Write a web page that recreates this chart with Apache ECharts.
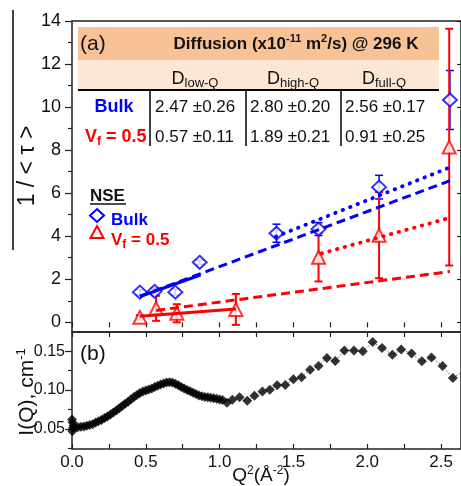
<!DOCTYPE html>
<html>
<head>
<meta charset="utf-8">
<script src="https://cdn.jsdelivr.net/npm/echarts@6/dist/echarts.min.js"></script>
<style>
  html, body { margin: 0; padding: 0; background: #fff; }
  #chart { width: 461px; height: 486px; }
</style>
</head>
<body>
<div id="chart"></div>
<script>
// NSE relaxation rates, 1/<tau>
const bulkQ = [0.46, 0.56, 0.70, 0.865, 1.385, 1.67, 2.08, 2.56]
const bulkTau = [1.40, 1.44, 1.40, 2.79, 4.14, 4.33, 6.28, 10.33]
const bulkErr = [0.12, 0.15, 0.15, 0.10, 0.42, 0.30, 0.55, 1.37]

const vfQ = [0.46, 0.57, 0.71, 1.11, 1.67, 2.08, 2.555]
const vfTau = [0.23, 0.65, 0.42, 0.60, 3.02, 4.05, 8.14]
const vfErr = [0.10, 0.58, 0.42, 0.72, 1.12, 2.00, 5.50]

// fit lines (end points)
const bulkLowFit = [[0.46, 1.20], [0.87, 2.20]]
const bulkFullFit = [[0.46, 1.21], [2.56, 6.58]]
const bulkHighFit = [[1.38, 3.98], [2.56, 7.20]]
const vfLowFit = [[0.46, 0.28], [1.11, 0.62]]
const vfFullFit = [[0.57, 0.55], [2.56, 2.36]]
const vfHighFit = [[1.69, 3.20], [2.53, 4.80]]

// SAXS I(Q)
const saxsQ = [0.000, 0.002, 0.004, 0.006, 0.010, 0.020, 0.040, 0.060, 0.080, 0.100,
  0.120, 0.140, 0.160, 0.180, 0.200, 0.220, 0.240, 0.260, 0.280, 0.300,
  0.320, 0.340, 0.360, 0.380, 0.400, 0.420, 0.440, 0.460, 0.480, 0.500,
  0.520, 0.540, 0.560, 0.580, 0.600, 0.620, 0.640, 0.660, 0.680, 0.700,
  0.720, 0.740, 0.760, 0.780, 0.800, 0.820, 0.840, 0.860, 0.880, 0.900,
  0.920, 0.940, 0.960, 0.980, 1.000, 1.020, 1.050, 1.086, 1.135, 1.187,
  1.236, 1.290, 1.340, 1.390, 1.445, 1.500, 1.555, 1.613, 1.670, 1.727,
  1.783, 1.845, 1.910, 1.970, 2.037, 2.100, 2.170, 2.230, 2.300, 2.370,
  2.435, 2.510, 2.580, 2.650]
const saxsI = [0.062, 0.047, 0.058, 0.051, 0.054, 0.052, 0.052, 0.0525, 0.053, 0.054,
  0.0548, 0.056, 0.058, 0.0598, 0.0615, 0.0638, 0.066, 0.0685, 0.071, 0.0735,
  0.0765, 0.0793, 0.0822, 0.085, 0.088, 0.091, 0.0935, 0.096, 0.098, 0.0995,
  0.1005, 0.102, 0.104, 0.1055, 0.107, 0.1085, 0.1095, 0.110, 0.1095, 0.108,
  0.106, 0.104, 0.102, 0.100, 0.0985, 0.0965, 0.0948, 0.093, 0.092, 0.091,
  0.0905, 0.090, 0.0893, 0.0888, 0.0878, 0.087, 0.0835, 0.0874, 0.0905, 0.086,
  0.0926, 0.098, 0.1004, 0.106, 0.1065, 0.114, 0.1163, 0.126, 0.131, 0.1413,
  0.1375, 0.1508, 0.1508, 0.150, 0.1617, 0.154, 0.1455, 0.152, 0.147, 0.137,
  0.142, 0.131, 0.1153, 0.124]

// ticks
const xTicks = [0, 0.25, 0.5, 0.75, 1, 1.25, 1.5, 1.75, 2, 2.25, 2.5]
const xLabels = [0, 0.5, 1, 1.5, 2, 2.5]
const tauMajor = [0, 2, 4, 6, 8, 10, 12, 14]
const tauMinor = [1, 3, 5, 7, 9, 11, 13]
const iMajor = [0.05, 0.10, 0.15]
const iMinor = [0.025, 0.075, 0.125]

const FONT = "'Liberation Sans', Arial, sans-serif"
const BLUE = "#0000ff"
const RED = "#ff0000"
const AX = "#222"

const chart = echarts.init(document.getElementById("chart"), null, { renderer: "canvas" })

const pairs = (xs, ys) => xs.map((x, i) => [x, ys[i]])
const triples = (xs, ys, es) => xs.map((x, i) => [x, ys[i], es[i]])

// error bars drawn with the axis coords
function errRender(color, w) {
  return function (params, api) {
    const x = api.value(0)
    const y = api.value(1)
    const e = api.value(2)
    const p1 = api.coord([x, y + e])
    const p2 = api.coord([x, y - e])
    const c = 4
    const st = { stroke: color, lineWidth: w }
    return {
      type: "group",
      children: [
        { type: "line", shape: { x1: p1[0], y1: p1[1], x2: p2[0], y2: p2[1] }, style: st },
        { type: "line", shape: { x1: p1[0] - c, y1: p1[1], x2: p1[0] + c, y2: p1[1] }, style: st },
        { type: "line", shape: { x1: p2[0] - c, y1: p2[1], x2: p2[0] + c, y2: p2[1] }, style: st }
      ]
    }
  }
}

function fitLine(data, color, kind) {
  let type = "solid"
  let width = 3
  let cap = "butt"
  if (kind === "dashed") type = [9, 5]
  if (kind === "dotted") { type = [0.5, 7.5]; width = 3.8; cap = "round" }
  return {
    type: "line", xAxisIndex: 0, yAxisIndex: 0, data, showSymbol: false, silent: true, z: 4,
    lineStyle: { color, width, type, cap }
  }
}

const tickStyle = { color: AX, width: 1.2 }

const option = {
  animation: false,
  grid: [
    { left: 72, top: 21, width: 390, height: 311, show: true, borderColor: AX, borderWidth: 1.5 },
    { left: 72, top: 332, width: 390, height: 117, show: true, borderColor: AX, borderWidth: 1.5 }
  ],
  xAxis: [
    { gridIndex: 0, type: "value", min: 0, max: 2.635, position: "bottom",
      axisLine: { show: false }, axisTick: { show: false }, axisLabel: { show: false }, splitLine: { show: false } },
    { gridIndex: 0, type: "value", min: 0, max: 2.635, position: "top",
      axisLine: { show: false }, axisLabel: { show: false }, splitLine: { show: false },
      axisTick: { show: true, inside: true, length: 5, lineStyle: tickStyle, customValues: xTicks } },
    { gridIndex: 1, type: "value", min: 0, max: 2.635, position: "bottom",
      axisLine: { show: false }, splitLine: { show: false },
      axisTick: { show: true, inside: true, length: 5, lineStyle: tickStyle, customValues: xTicks },
      axisLabel: { customValues: xLabels, formatter: (v) => v.toFixed(1), fontSize: 17, fontFamily: FONT, color: "#111", margin: 5 } },
    { gridIndex: 1, type: "value", min: 0, max: 2.635, position: "top",
      axisLine: { show: false }, axisLabel: { show: false }, splitLine: { show: false },
      axisTick: { show: true, inside: true, length: 5, lineStyle: tickStyle, customValues: xTicks } }
  ],
  yAxis: [
    { gridIndex: 0, type: "value", min: -0.45, max: 14, position: "left",
      axisLine: { show: false }, splitLine: { show: false },
      axisTick: { show: true, inside: false, length: 7, lineStyle: tickStyle, customValues: tauMajor },
      axisLabel: { customValues: tauMajor, fontSize: 18, fontFamily: FONT, color: "#111", margin: 11 } },
    { gridIndex: 0, type: "value", min: -0.45, max: 14, position: "left",
      axisLine: { show: false }, splitLine: { show: false }, axisLabel: { show: false },
      axisTick: { show: true, inside: false, length: 4, lineStyle: tickStyle, customValues: tauMinor } },
    { gridIndex: 0, type: "value", min: -0.45, max: 14, position: "right",
      axisLine: { show: false }, splitLine: { show: false }, axisLabel: { show: false },
      axisTick: { show: true, inside: true, length: 4, lineStyle: tickStyle, customValues: tauMajor } },
    { gridIndex: 1, type: "value", min: 0.024, max: 0.1747, position: "left",
      axisLine: { show: false }, splitLine: { show: false },
      axisTick: { show: true, inside: false, length: 7, lineStyle: tickStyle, customValues: iMajor },
      axisLabel: { customValues: iMajor, formatter: (v) => v.toFixed(2), fontSize: 16, fontFamily: FONT, color: "#111", margin: 7 } },
    { gridIndex: 1, type: "value", min: 0.024, max: 0.1747, position: "left",
      axisLine: { show: false }, splitLine: { show: false }, axisLabel: { show: false },
      axisTick: { show: true, inside: false, length: 4, lineStyle: tickStyle, customValues: iMinor } }
  ],
  series: [
    { type: "custom", xAxisIndex: 0, yAxisIndex: 0, z: 1, clip: true,
      data: triples(bulkQ, bulkTau, bulkErr), renderItem: errRender(BLUE, 1.5) },
    { type: "custom", xAxisIndex: 0, yAxisIndex: 0, z: 1, clip: true,
      data: triples(vfQ, vfTau, vfErr), renderItem: errRender(RED, 2) },
    { type: "scatter", xAxisIndex: 0, yAxisIndex: 0, z: 3, data: pairs(bulkQ, bulkTau),
      symbol: "diamond", symbolSize: [14, 13],
      itemStyle: { color: "#fff", borderColor: BLUE, borderWidth: 2 } },
    { type: "scatter", xAxisIndex: 0, yAxisIndex: 0, z: 3, data: pairs(vfQ, vfTau),
      symbol: "triangle", symbolSize: [13, 13],
      itemStyle: { color: "#fff", borderColor: RED, borderWidth: 2 } },
    fitLine(bulkFullFit, BLUE, "dashed"),
    fitLine(bulkLowFit, BLUE, "solid"),
    fitLine(bulkHighFit, BLUE, "dotted"),
    fitLine(vfFullFit, RED, "dashed"),
    fitLine(vfLowFit, RED, "solid"),
    fitLine(vfHighFit, RED, "dotted"),
    { type: "line", xAxisIndex: 2, yAxisIndex: 3, data: pairs(saxsQ, saxsI), showSymbol: false,
      silent: true, z: 2, lineStyle: { color: "#555", width: 1, type: [1.5, 2] } },
    { type: "scatter", xAxisIndex: 2, yAxisIndex: 3, data: pairs(saxsQ, saxsI), z: 3,
      symbol: "diamond", symbolSize: 10, itemStyle: { color: "#000" } }
  ],
  graphic: [
    // stray frame line at far left
    { type: "line", shape: { x1: 13, y1: 10, x2: 13, y2: 250 }, style: { stroke: "#000", lineWidth: 1.5 } },
    // table
    { type: "rect", shape: { x: 78, y: 27, width: 361, height: 33 }, style: { fill: "#f7c396" }, z: 10 },
    { type: "rect", shape: { x: 78, y: 60, width: 361, height: 30 }, style: { fill: "#fce6d6" }, z: 10 },
    { type: "line", shape: { x1: 78, y1: 90, x2: 439, y2: 90 }, style: { stroke: "#000", lineWidth: 2 }, z: 11 },
    { type: "line", shape: { x1: 150, y1: 90, x2: 150, y2: 146 }, style: { stroke: "#000", lineWidth: 1.5 }, z: 11 },
    { type: "line", shape: { x1: 246, y1: 90, x2: 246, y2: 146 }, style: { stroke: "#000", lineWidth: 1.5 }, z: 11 },
    { type: "line", shape: { x1: 341, y1: 90, x2: 341, y2: 146 }, style: { stroke: "#000", lineWidth: 1.5 }, z: 11 },
    { type: "text", z: 12, style: { x: 80, y: 44, text: "(a)", font: `21px ${FONT}`, fill: "#111", textVerticalAlign: "middle" } },
    { type: "text", z: 12, style: { x: 296, y: 44, textAlign: "center", textVerticalAlign: "middle", fill: "#111",
      text: "{b|Diffusion (x10}{s|-11}{b| m}{s|2}{b|/s) @ 296 K}",
      rich: { b: { fontSize: 17, fontWeight: "bold", fontFamily: FONT, lineHeight: 22 },
        s: { fontSize: 11, fontWeight: "bold", fontFamily: FONT, lineHeight: 11, verticalAlign: "top" } } } },
    ...[["low-Q", 195], ["high-Q", 293], ["full-Q", 384]].map(([sub, cx]) => ({
      type: "text", z: 12, style: { x: cx, y: 79, textAlign: "center", textVerticalAlign: "middle", fill: "#111",
        text: `{m|D}{s|${sub}}`,
        rich: { m: { fontSize: 18, fontFamily: FONT, lineHeight: 22 },
          s: { fontSize: 13, fontFamily: FONT, lineHeight: 13, verticalAlign: "bottom" } } }
    })),
    { type: "text", z: 12, style: { x: 114, y: 107, text: "Bulk", textAlign: "center", textVerticalAlign: "middle",
      font: `bold 18px ${FONT}`, fill: BLUE } },
    { type: "text", z: 12, style: { x: 85, y: 137, textVerticalAlign: "middle", fill: RED,
      text: "{m|V}{s|f}{m| = 0.5}",
      rich: { m: { fontSize: 18, fontWeight: "bold", fontFamily: FONT, lineHeight: 22 },
        s: { fontSize: 12, fontWeight: "bold", fontFamily: FONT, lineHeight: 12, verticalAlign: "bottom" } } } },
    ...[["2.47 ±0.26", 155, 107], ["2.80 ±0.20", 250, 107], ["2.56 ±0.17", 345, 107],
      ["0.57 ±0.11", 155, 137], ["1.89 ±0.21", 250, 137], ["0.91 ±0.25", 345, 137]].map(([t, x, y]) => ({
      type: "text", z: 12, style: { x, y, text: t, textVerticalAlign: "middle", font: `17px ${FONT}`, fill: "#111" }
    })),
    // legend
    { type: "text", z: 12, style: { x: 90, y: 196, text: "NSE", textVerticalAlign: "middle", font: `bold 17px ${FONT}`, fill: "#111" } },
    { type: "line", z: 12, shape: { x1: 90, y1: 204, x2: 126, y2: 204 }, style: { stroke: "#111", lineWidth: 1.5 } },
    { type: "polygon", z: 12, shape: { points: [[97, 209], [104, 215.5], [97, 222], [90, 215.5]] },
      style: { fill: "#fff", stroke: BLUE, lineWidth: 2 } },
    { type: "text", z: 12, style: { x: 111, y: 220, text: "Bulk", textVerticalAlign: "middle", font: `bold 17px ${FONT}`, fill: BLUE } },
    { type: "polygon", z: 12, shape: { points: [[97, 226], [103.5, 238], [90.5, 238]] },
      style: { fill: "#fff", stroke: RED, lineWidth: 2 } },
    { type: "text", z: 12, style: { x: 111, y: 240, textVerticalAlign: "middle", fill: RED,
      text: "{m|V}{s|f}{m| = 0.5}",
      rich: { m: { fontSize: 17, fontWeight: "bold", fontFamily: FONT, lineHeight: 21 },
        s: { fontSize: 12, fontWeight: "bold", fontFamily: FONT, lineHeight: 12, verticalAlign: "bottom" } } } },
    { type: "text", z: 12, style: { x: 80, y: 354, text: "(b)", font: `21px ${FONT}`, fill: "#111", textVerticalAlign: "middle" } },
    // axis titles
    { type: "text", z: 12, x: 28, y: 166, rotation: Math.PI / 2,
      style: { x: 0, y: 0, text: "1 / < τ >", textAlign: "center", textVerticalAlign: "middle", font: `23px ${FONT}`, fill: "#111" } },
    { type: "text", z: 12, x: 27, y: 392, rotation: Math.PI / 2,
      style: { x: 0, y: 0, textAlign: "center", textVerticalAlign: "middle", fill: "#111",
        text: "{m|I(Q), cm}{s|-1}",
        rich: { m: { fontSize: 21, fontFamily: FONT, lineHeight: 24 },
          s: { fontSize: 13, fontFamily: FONT, lineHeight: 13, verticalAlign: "top" } } } },
    { type: "text", z: 12, style: { x: 261, y: 476, textAlign: "center", textVerticalAlign: "middle", fill: "#111",
      text: "{m|Q}{s|2}{m|(Å}{s|-2}{m|)}",
      rich: { m: { fontSize: 19, fontFamily: FONT, lineHeight: 22 },
        s: { fontSize: 12, fontFamily: FONT, lineHeight: 12, verticalAlign: "top" } } } }
  ]
}

chart.setOption(option)
</script>
</body>
</html>
